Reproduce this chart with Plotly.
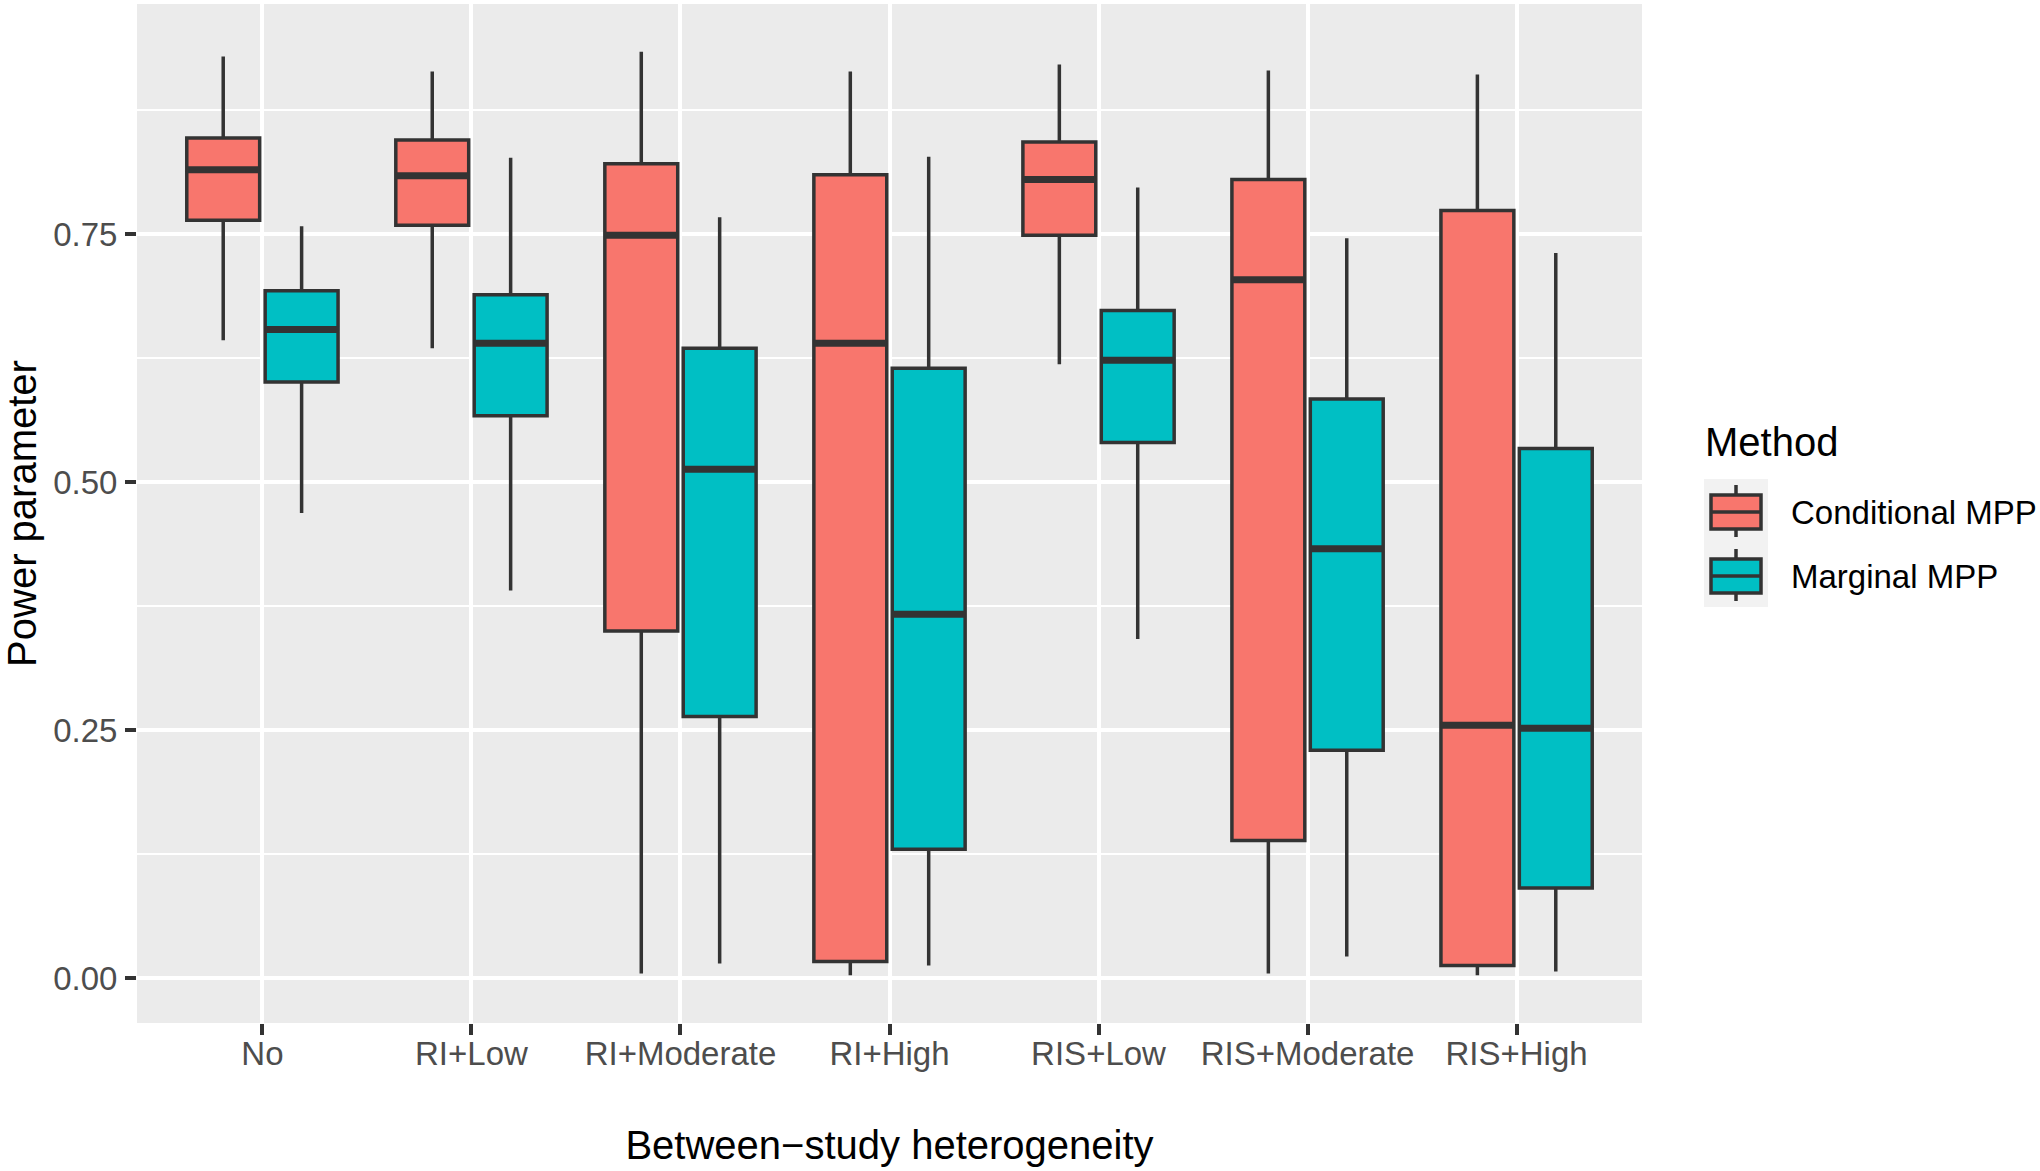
import plotly.graph_objects as go

categories = ["No", "RI+Low", "RI+Moderate", "RI+High", "RIS+Low", "RIS+Moderate", "RIS+High"]

# Conditional MPP
cond_low = [0.643, 0.635, 0.005, 0.003, 0.619, 0.005, 0.003]
cond_q1 = [0.764, 0.759, 0.350, 0.017, 0.749, 0.139, 0.013]
cond_med = [0.815, 0.809, 0.749, 0.640, 0.805, 0.704, 0.255]
cond_q3 = [0.847, 0.845, 0.821, 0.810, 0.843, 0.805, 0.774]
cond_high = [0.929, 0.914, 0.934, 0.914, 0.921, 0.915, 0.911]

# Marginal MPP
marg_low = [0.469, 0.391, 0.015, 0.013, 0.342, 0.022, 0.007]
marg_q1 = [0.601, 0.567, 0.264, 0.130, 0.540, 0.230, 0.091]
marg_med = [0.654, 0.640, 0.513, 0.367, 0.623, 0.433, 0.252]
marg_q3 = [0.693, 0.689, 0.635, 0.615, 0.673, 0.584, 0.534]
marg_high = [0.758, 0.827, 0.767, 0.828, 0.797, 0.746, 0.731]

y_ticks = [0.0, 0.25, 0.5, 0.75]
y_tick_labels = ["0.00", "0.25", "0.50", "0.75"]
y_minor = [0.125, 0.375, 0.625, 0.875]

methods = ["Conditional MPP", "Marginal MPP"]
colors = ["#F8766D", "#00BFC4"]
legend_title = "Method"

series = [
    (methods[0], colors[0], "c", cond_low, cond_q1, cond_med, cond_q3, cond_high),
    (methods[1], colors[1], "m", marg_low, marg_q1, marg_med, marg_q3, marg_high),
]

EDGE = "#333333"
fig = go.Figure()
for name, color, grp, lo, q1, med, q3, hi in series:
    fig.add_trace(go.Box(
        name=name, x=categories, q1=q1, median=med, q3=q3,
        lowerfence=lo, upperfence=hi,
        fillcolor=color, line=dict(color=EDGE, width=3.5),
        whiskerwidth=0, offsetgroup=grp, alignmentgroup="a",
        boxpoints=False, showlegend=False,
    ))
    # thicker median line (ggplot fatten)
    fig.add_trace(go.Box(
        name=name, x=categories, q1=med, median=med, q3=med,
        lowerfence=med, upperfence=med,
        fillcolor="rgba(0,0,0,0)", line=dict(color=EDGE, width=7),
        whiskerwidth=0, offsetgroup=grp, alignmentgroup="a",
        showlegend=False, boxpoints=False, hoverinfo="skip",
    ))

font_family = "Liberation Sans, Arial, Helvetica, sans-serif"

# ---- page geometry (pixels) ----
W, H = 2040, 1171
PL, PR, PT, PB = 137, 1642, 4, 1023


def px_x(x):
    return (x - PL) / (PR - PL)


def px_y(y):
    return (PB - y) / (PB - PT)


# ---- ggplot-like legend built from shapes/annotations ----
shapes = []
annotations = []
annotations.append(dict(
    text=legend_title, xref="paper", yref="paper", x=px_x(1703), y=px_y(442),
    xanchor="left", yanchor="middle", showarrow=False,
    font=dict(size=40, color="black", family=font_family),
))
shapes.append(dict(type="rect", xref="paper", yref="paper",
                   x0=px_x(1704), x1=px_x(1768), y0=px_y(479), y1=px_y(607),
                   fillcolor="#F2F2F2", line=dict(width=0), layer="below"))
for i, (name, color) in enumerate(zip(methods, colors)):
    cy = 512 + 64 * i
    shapes.append(dict(type="line", xref="paper", yref="paper",
                       x0=px_x(1736), x1=px_x(1736), y0=px_y(cy - 27), y1=px_y(cy + 25),
                       line=dict(color=EDGE, width=3.5)))
    shapes.append(dict(type="rect", xref="paper", yref="paper",
                       x0=px_x(1711), x1=px_x(1761), y0=px_y(cy - 17), y1=px_y(cy + 17),
                       fillcolor=color, line=dict(color=EDGE, width=3.5)))
    shapes.append(dict(type="line", xref="paper", yref="paper",
                       x0=px_x(1711), x1=px_x(1761), y0=px_y(cy), y1=px_y(cy),
                       line=dict(color=EDGE, width=3.5)))
    annotations.append(dict(
        text=name, xref="paper", yref="paper", x=px_x(1789), y=px_y(cy),
        xanchor="left", yanchor="middle", showarrow=False,
        font=dict(size=33, color="black", family=font_family),
    ))

fig.update_layout(
    width=W, height=H,
    margin=dict(l=PL, r=W - PR, t=PT, b=H - PB),
    paper_bgcolor="white", plot_bgcolor="#EBEBEB",
    boxmode="group", boxgap=0.25, boxgroupgap=0.07,
    font=dict(family=font_family, color="black"),
    showlegend=False,
    shapes=shapes, annotations=annotations,
)

fig.update_xaxes(
    type="category", categoryorder="array", categoryarray=categories,
    range=[-0.6, len(categories) - 0.4],
    showgrid=True, gridcolor="white", gridwidth=4,
    ticks="outside", ticklen=11, tickwidth=4, tickcolor=EDGE,
    tickfont=dict(size=33, color="#4D4D4D", family=font_family),
    ticklabelstandoff=-10,
    title=dict(text="Between\u2212study heterogeneity", font=dict(size=40, color="black"), standoff=60),
    zeroline=False, showline=False, automargin=False,
)
fig.update_yaxes(
    range=[-0.045, 0.982],
    tickvals=y_ticks, ticktext=y_tick_labels,
    showgrid=True, gridcolor="white", gridwidth=4,
    minor=dict(tickvals=y_minor, showgrid=True, gridcolor="white", gridwidth=2, ticks=""),
    ticks="outside", ticklen=11, tickwidth=4, tickcolor=EDGE,
    tickfont=dict(size=33, color="#4D4D4D", family=font_family),
    ticklabelstandoff=1,
    title=dict(text="Power parameter", font=dict(size=40, color="black"), standoff=14),
    zeroline=False, showline=False, automargin=False,
)

fig.write_html(
    "out.html",
    config={"displayModeBar": False},
    post_script="document.body.style.margin='0';document.body.style.padding='0';window.dispatchEvent(new Event('resize'));",
)
